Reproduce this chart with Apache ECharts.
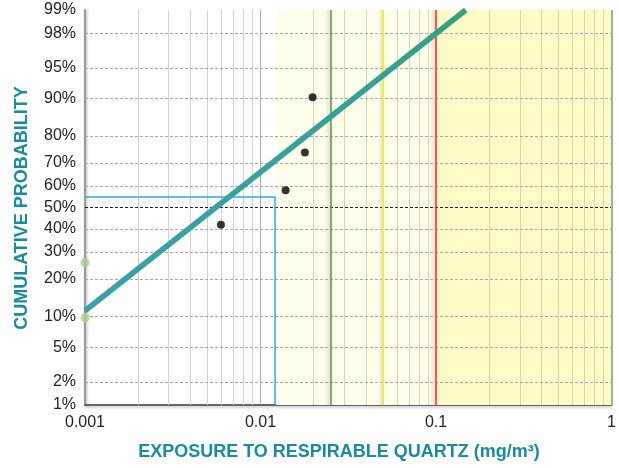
<!DOCTYPE html>
<html>
<head>
<meta charset="utf-8">
<title>Respirable quartz exposure – probability plot</title>
<script src="https://cdn.jsdelivr.net/npm/echarts@6/dist/echarts.min.js"></script>
<style>
  html, body { margin: 0; padding: 0; background: #ffffff; }
  #chart { width: 619px; height: 468px; }
</style>
</head>
<body>
<div id="chart"></div>
<script>
// ---- data -------------------------------------------------------------
// measured exposures (mg/m3) and their plotting positions (%)
const sampleExposure = [0.00595, 0.0139, 0.0179, 0.0198];
const sampleProb = [41.94, 58.06, 74.19, 90.32];
// non-detects, placed on the lower axis limit
const ndExposure = [0.001, 0.001];
const ndProb = [9.68, 25.81];
// fitted lognormal line (two ends, straight on probability paper)
const fitExposure = [0.001, 0.1476];
const fitProb = [11.2, 99];
// reference box (exposure, probability)
const boxExposure = [0.001, 0.0121, 0.0121];
const boxProb = [54.9, 54.9, 1];
// limit values (mg/m3)
const limitGreen = 0.025;
const limitYellow = 0.05;
const limitRed = 0.1;
const zoneStart = 0.0123;
// axis ticks
const probTicks = [1, 2, 5, 10, 20, 30, 40, 50, 60, 70, 80, 90, 95, 98, 99];
const exposureTicks = [0.001, 0.01, 0.1, 1];
const exposureMinorSteps = [2, 3, 4, 5, 6, 7, 8, 9];

// ---- probit transform (Acklam's inverse normal) -------------------------
function normInv(p) {
  const a = [-3.969683028665376e+01, 2.209460984245205e+02, -2.759285104469687e+02,
             1.383577518672690e+02, -3.066479806614716e+01, 2.506628277459239e+00];
  const b = [-5.447609879822406e+01, 1.615858368580409e+02, -1.556989798598866e+02,
             6.680131188771972e+01, -1.328068155288572e+01];
  const c = [-7.784894002430293e-03, -3.223964580411365e-01, -2.400758277161838e+00,
             -2.549671010229420e+00, 4.374664141464968e+00, 2.938163982698783e+00];
  const d = [7.784695709041462e-03, 3.224671290700398e-01, 2.445134137142996e+00,
             3.754408661907416e+00];
  const pl = 0.02425, ph = 1 - pl;
  let q, r;
  if (p < pl) {
    q = Math.sqrt(-2 * Math.log(p));
    return (((((c[0]*q+c[1])*q+c[2])*q+c[3])*q+c[4])*q+c[5]) /
           ((((d[0]*q+d[1])*q+d[2])*q+d[3])*q+1);
  }
  if (p <= ph) {
    q = p - 0.5; r = q * q;
    return (((((a[0]*r+a[1])*r+a[2])*r+a[3])*r+a[4])*r+a[5])*q /
           (((((b[0]*r+b[1])*r+b[2])*r+b[3])*r+b[4])*r+1);
  }
  q = Math.sqrt(-2 * Math.log(1 - p));
  return -(((((c[0]*q+c[1])*q+c[2])*q+c[3])*q+c[4])*q+c[5]) /
          ((((d[0]*q+d[1])*q+d[2])*q+d[3])*q+1);
}
const z = pct => normInv(pct / 100);
const pairs = (xs, ps) => xs.map((x, i) => [x, z(ps[i])]);

const zMin = z(probTicks[0]);
const zMax = z(probTicks[probTicks.length - 1]);
const zTicks = probTicks.map(z);

function labelForZ(v) {
  let best = 0, bd = Infinity;
  zTicks.forEach((t, i) => { const d = Math.abs(t - v); if (d < bd) { bd = d; best = i; } });
  return probTicks[best] + '%';
}

// minor vertical grid values per decade
const minorX = [];
[0.001, 0.01, 0.1].forEach(dec => exposureMinorSteps.forEach(s => minorX.push(+(dec * s).toPrecision(3))));

const teal = '#178c9c';
const PREC = 12;
const hShadow = (from, to) => [
  { xAxis: from, itemStyle: { color: new echarts.graphic.LinearGradient(0, 0, 1, 0, [
      { offset: 0, color: 'rgba(120,120,100,0)' }, { offset: 1, color: 'rgba(120,120,100,0.22)' }]) } },
  { xAxis: to }
];

const chart = echarts.init(document.getElementById('chart'), null, { renderer: 'canvas' });

chart.setOption({
  animation: false,
  backgroundColor: '#ffffff',
  grid: { left: 85, right: 6, top: 10, bottom: 63 },
  xAxis: {
    type: 'log',
    logBase: 10,
    min: 0.001,
    max: 1,
    axisLine: { show: true, onZero: false, lineStyle: { color: '#3a3a3a', width: 1.5,
      shadowColor: 'rgba(0,0,0,0.35)', shadowBlur: 3, shadowOffsetY: 1.5 } },
    axisTick: { show: false },
    splitLine: { show: false },
    axisLabel: {
      color: '#222', fontSize: 16, fontFamily: 'Liberation Sans, Arial, sans-serif',
      margin: 10,
      formatter: v => {
        const t = exposureTicks.find(e => Math.abs(Math.log10(e) - Math.log10(v)) < 1e-6);
        return t === undefined ? '' : String(t);
      }
    }
  },
  yAxis: {
    type: 'value',
    min: zMin,
    max: zMax,
    axisLine: { show: true, onZero: false, lineStyle: { color: '#9a9a9a', width: 2,
      shadowColor: 'rgba(0,0,0,0.3)', shadowBlur: 3, shadowOffsetX: 1 } },
    axisTick: { show: false },
    splitLine: { show: false },
    axisLabel: {
      customValues: zTicks,
      color: '#222', fontSize: 16, fontFamily: 'Liberation Sans, Arial, sans-serif',
      margin: 9,
      formatter: v => labelForZ(v)
    }
  },
  graphic: [
    {
      type: 'text',
      style: {
        text: 'EXPOSURE TO RESPIRABLE QUARTZ (mg/m³)',
        fill: teal, font: 'bold 18px "Liberation Sans", Arial, sans-serif',
        x: 339, y: 452, align: 'center', verticalAlign: 'middle'
      }
    },
    {
      type: 'text',
      x: 22, y: 208, rotation: Math.PI / 2,
      style: {
        text: 'CUMULATIVE PROBABILITY',
        fill: teal, font: 'bold 18px "Liberation Sans", Arial, sans-serif',
        align: 'center', verticalAlign: 'middle'
      }
    }
  ],
  series: [
    // background zones
    {
      type: 'line', data: [], silent: true, z: 1,
      markArea: {
        silent: true, precision: PREC,
        data: [
          [{ xAxis: zoneStart, itemStyle: { color: '#fefeec' } }, { xAxis: limitRed }],
          [{ xAxis: limitRed, itemStyle: { color: '#fffbc6' } }, { xAxis: 1 }],
          hShadow(0.0232, limitGreen),
          hShadow(0.0465, limitYellow),
          hShadow(0.0915, limitRed)
        ]
      }
    },
    // vertical grid
    {
      type: 'line', data: [], silent: true, z: 2,
      markLine: {
        silent: true, symbol: 'none', label: { show: false }, precision: PREC,
        data: minorX.map(v => ({
          xAxis: v,
          lineStyle: { type: 'solid', width: 1, color: v < zoneStart ? '#d2d2d2' : '#d9d5ae' }
        })).concat([{ xAxis: 0.01, lineStyle: { type: 'solid', width: 1, color: '#ababab' } }])
      }
    },
    // horizontal grid
    {
      type: 'line', data: [], silent: true, z: 3,
      markLine: {
        silent: true, symbol: 'none', label: { show: false }, precision: PREC,
        data: probTicks.filter(p => p !== 1 && p !== 99).map(p => ({
          yAxis: z(p),
          lineStyle: p === 50
            ? { type: [3, 2], width: 1, color: '#222' }
            : { type: [3, 2], width: 1, color: '#a8a8a8' }
        }))
      }
    },
    // limit lines and frame
    {
      type: 'line', data: [], silent: true, z: 4,
      markLine: {
        silent: true, symbol: 'none', label: { show: false }, precision: PREC,
        data: [
          { xAxis: limitGreen, lineStyle: { type: 'solid', width: 1.5, color: '#5b8f3b' } },
          { xAxis: limitYellow, lineStyle: { type: 'solid', width: 2, color: '#f3ec3c' } },
          { xAxis: limitRed, lineStyle: { type: 'solid', width: 1.5, color: '#ff2222' } },
          { xAxis: 1, lineStyle: { type: 'solid', width: 2, color: '#a9a9a9' } },
          { yAxis: zMax, lineStyle: { type: 'solid', width: 1.5, color: '#222' } }
        ]
      }
    },
    // reference box
    {
      type: 'line', z: 5, silent: true, symbol: 'none',
      data: pairs(boxExposure, boxProb),
      lineStyle: { color: '#29abe2', width: 1.5 }
    },
    // fitted line
    {
      type: 'line', z: 6, silent: true, symbol: 'none',
      data: pairs(fitExposure, fitProb),
      lineStyle: {
        width: 5.5,
        color: new echarts.graphic.LinearGradient(0, 0, 1, 0, [
          { offset: 0, color: '#39a0a6' },
          { offset: 0.6, color: '#37a09c' },
          { offset: 1, color: '#31a07e' }
        ])
      }
    },
    // non-detects
    {
      type: 'scatter', z: 7, clip: false, silent: true,
      data: pairs(ndExposure, ndProb),
      symbolSize: 9,
      itemStyle: { color: '#a8d08c' }
    },
    // measurements
    {
      type: 'scatter', z: 8, silent: true,
      data: pairs(sampleExposure, sampleProb),
      symbolSize: 8,
      itemStyle: { color: '#000' }
    }
  ]
});
</script>
</body>
</html>
